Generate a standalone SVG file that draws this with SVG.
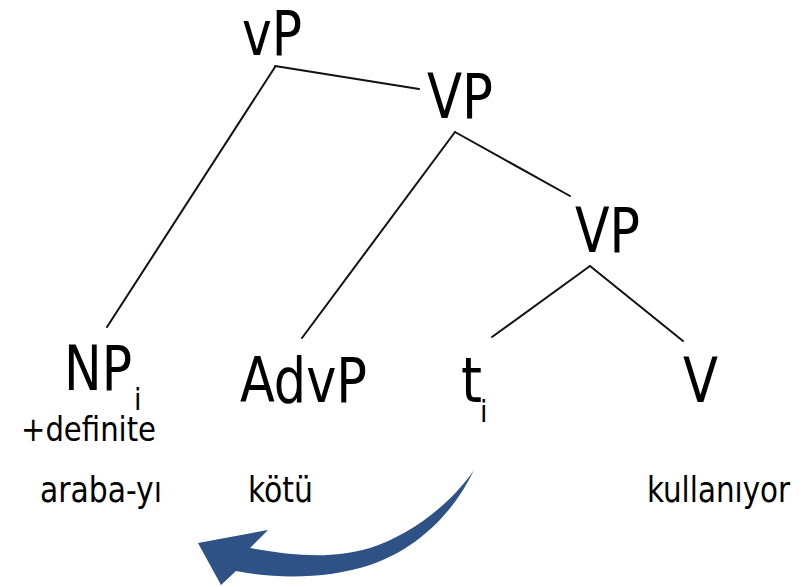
<svg xmlns="http://www.w3.org/2000/svg" width="805" height="587" viewBox="0 0 805 587">
<style>
.n{font-family:"DejaVu Sans Condensed","DejaVu Sans",sans-serif;fill:#000}
.big{font-size:62px}
.sub{font-size:30px}
.w{font-size:36px}
.e{stroke:#111;stroke-width:2;fill:none;stroke-linecap:round}
</style>
<rect width="805" height="587" fill="#fff"/>
<g id="connectors">
<line class="e" x1="275" y1="66" x2="419" y2="89"/>
<line class="e" x1="275" y1="67" x2="107" y2="327"/>
<line class="e" x1="455" y1="132" x2="302" y2="338"/>
<line class="e" x1="455" y1="132" x2="570" y2="196"/>
<line class="e" x1="590" y1="266" x2="492" y2="337"/>
<line class="e" x1="590" y1="266" x2="683" y2="341"/>
<path id="movement" d="M474,470 C450,505 410,535 370,548 C330,560 290,555 250,548 L268,530 L198,543 L221,585 L236,571 C280,580 330,578 370,565 C420,548 455,510 474,470 Z" fill="#2e5186"/>
</g>
<g id="vP"><text class="n big" x="242" y="55" textLength="60" lengthAdjust="spacingAndGlyphs">vP</text></g>
<g id="VP1"><text class="n big" x="427" y="118" textLength="66" lengthAdjust="spacingAndGlyphs">VP</text></g>
<g id="VP2"><text class="n big" x="575" y="252" textLength="65" lengthAdjust="spacingAndGlyphs">VP</text></g>
<g id="NP">
<text class="n big" x="64" y="390" textLength="68" lengthAdjust="spacingAndGlyphs">NP</text>
<text class="n sub" x="134" y="410">i</text>
<text class="n" style="font-size:33px" x="21" y="441" textLength="135" lengthAdjust="spacingAndGlyphs">+definite</text>
</g>
<g id="AdvP"><text class="n big" x="240" y="402" textLength="127" lengthAdjust="spacingAndGlyphs">AdvP</text></g>
<g id="t">
<text class="n big" x="461" y="402" textLength="21" lengthAdjust="spacingAndGlyphs">t</text>
<text class="n sub" x="480" y="422">i</text>
</g>
<g id="V"><text class="n big" x="683" y="402" textLength="35" lengthAdjust="spacingAndGlyphs">V</text></g>
<g id="words">
<text class="n w" x="40" y="502" textLength="122" lengthAdjust="spacingAndGlyphs">araba-yı</text>
<text class="n w" x="248" y="502" textLength="65" lengthAdjust="spacingAndGlyphs">kötü</text>
<text class="n w" x="647" y="502" textLength="143" lengthAdjust="spacingAndGlyphs">kullanıyor</text>
</g>
</svg>
